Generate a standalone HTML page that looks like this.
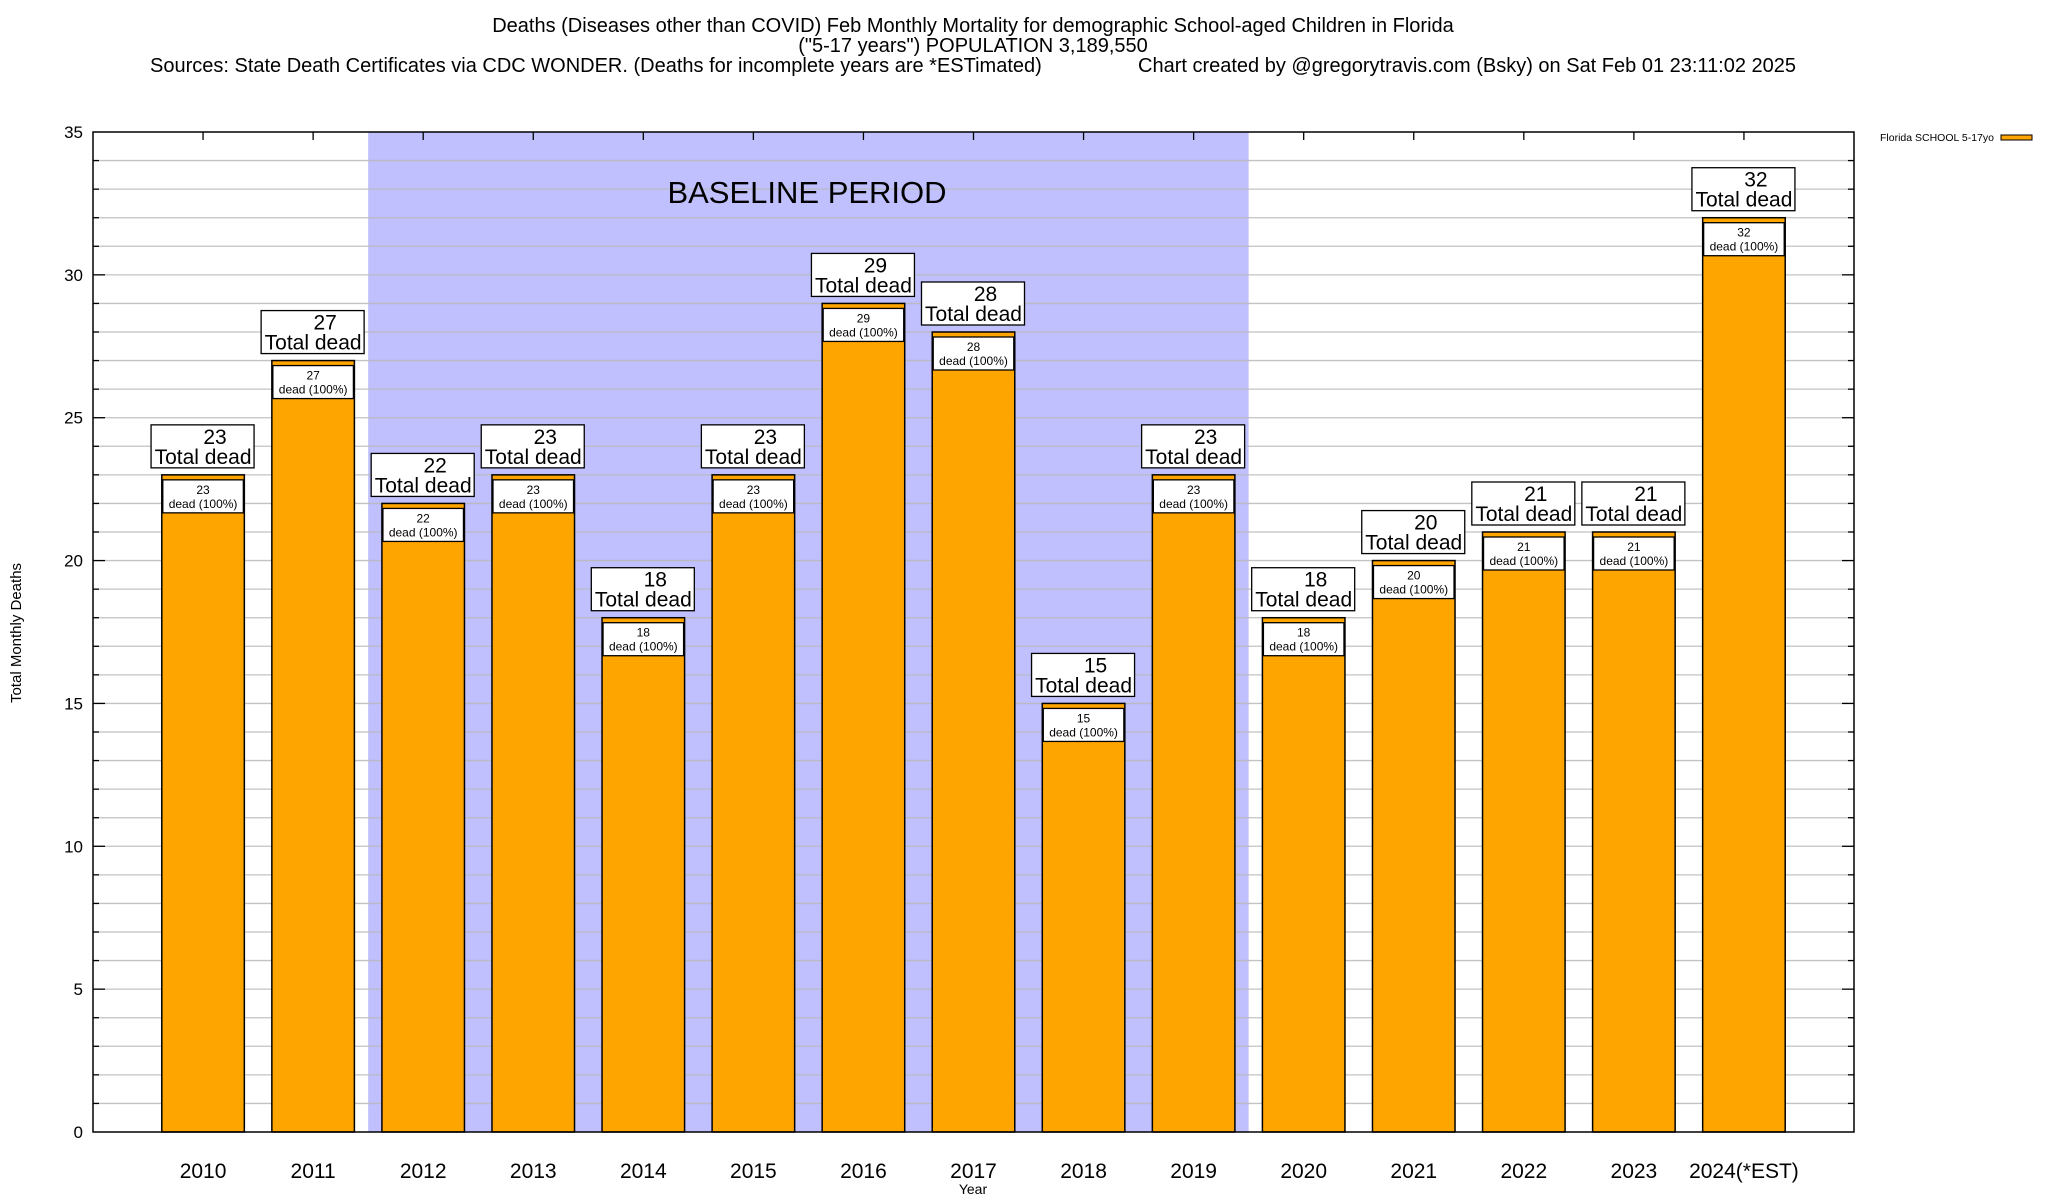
<!DOCTYPE html>
<html><head><meta charset="utf-8"><style>
html,body{margin:0;padding:0;background:#fff;}
svg{display:block;font-family:"Liberation Sans",sans-serif;}
</style></head><body>
<svg id="chart" width="2048" height="1200" viewBox="0 0 2048 1200" xmlns="http://www.w3.org/2000/svg">
<g font-size="20" text-anchor="middle">
<text x="973" y="32">Deaths (Diseases other than COVID) Feb Monthly Mortality for demographic School-aged Children in Florida</text>
<text x="973" y="52">("5-17 years") POPULATION 3,189,550</text>
<text x="150" y="72" text-anchor="start">Sources: State Death Certificates via CDC WONDER. (Deaths for incomplete years are *ESTimated)</text>
<text x="1138" y="72" text-anchor="start">Chart created by @gregorytravis.com (Bsky) on Sat Feb 01 23:11:02 2025</text>
</g>
<g id="plot"></g>
<g>
<text x="1880" y="141" font-size="10" textLength="114" lengthAdjust="spacingAndGlyphs">Florida SCHOOL 5-17yo</text>
<rect x="2001" y="135" width="31" height="5" fill="#ffa500" stroke="#000" stroke-width="1"/>
</g>
<text transform="translate(21,633) rotate(-90)" font-size="15" text-anchor="middle">Total Monthly Deaths</text>
<text x="973" y="1194" font-size="14" text-anchor="middle">Year</text>
</svg>
<script>
const categories = ["2010","2011","2012","2013","2014","2015","2016","2017","2018","2019","2020","2021","2022","2023","2024(*EST)"];
const deaths = [23,27,22,23,18,23,29,28,15,23,18,20,21,21,32];
const yTicks = [0,5,10,15,20,25,30,35];
const baselineStart = 1.5, baselineEnd = 9.5;

const NS = "http://www.w3.org/2000/svg";
const L = 93, R = 1854, T = 132, B = 1132;
const xMin = -1, xMax = categories.length, yMax = 35;
const xs = v => L + (v - xMin) / (xMax - xMin) * (R - L);
const ys = v => B - v / yMax * (B - T);
const pitch = (R - L) / (xMax - xMin);
const plot = document.getElementById('plot');
function mk(tag, attrs, parent) {
  const e = document.createElementNS(NS, tag);
  for (const k in attrs) e.setAttribute(k, attrs[k]);
  (parent || plot).appendChild(e);
  return e;
}
const shade = mk('rect', {x: xs(baselineStart), y: T, width: xs(baselineEnd) - xs(baselineStart), height: B - T, fill: '#c0c0ff'});


for (let v = 1; v < yMax; v++) {
  const g = mk('line', {x1: L, x2: R, y1: ys(v), y2: ys(v), stroke: '#b8b8b8', 'stroke-width': 1.3, 'stroke-opacity': 0.85});
  
  
  const t1 = mk('line', {x1: L, x2: L + (v % 5 ? 6 : 12), y1: ys(v), y2: ys(v), stroke: '#000', 'stroke-width': 1.3});
  
  
  const t2 = mk('line', {x1: R, x2: R - (v % 5 ? 6 : 12), y1: ys(v), y2: ys(v), stroke: '#000', 'stroke-width': 1.3});
  
  
}
const bl = mk('text', {x: 807, y: 203, 'font-size': 31, 'text-anchor': 'middle'});
bl.textContent = 'BASELINE PERIOD';


yTicks.forEach(v => {
  const t = mk('text', {x: 83, y: ys(v) + 6, 'font-size': 17, 'text-anchor': 'end'});
  t.textContent = v;
  
  
});
const bw = pitch * 0.75;
categories.forEach((c, i) => {
  const cx = xs(i), v = deaths[i];
  const top = ys(v);
  const tk = mk('line', {x1: cx, x2: cx, y1: T, y2: T + 8, stroke: '#000', 'stroke-width': 1.3});
  
  
  const bar = mk('rect', {x: cx - bw / 2, y: top, width: bw, height: B - top, fill: '#ffa500', stroke: '#000', 'stroke-width': 1.5});
  
  
  const ib = mk('rect', {x: cx - bw / 2 + 1, y: top + 5, width: bw - 2, height: 33, fill: '#fff', stroke: '#000', 'stroke-width': 1.3});
  
  
  const it1 = mk('text', {x: cx, y: top + 19, 'font-size': 12, 'text-anchor': 'middle'});
  it1.textContent = v;
  
  
  const it2 = mk('text', {x: cx, y: top + 33, 'font-size': 12, 'text-anchor': 'middle'});
  it2.textContent = 'dead (100%)';
  
  
  const ob = mk('rect', {x: cx - 52, y: top - 50, width: 103, height: 43, fill: '#fff', stroke: '#000', 'stroke-width': 1.3});
  
  
  const o1 = mk('text', {x: cx + 12, y: top - 31, 'font-size': 21, 'text-anchor': 'middle'});
  o1.textContent = v;
  
  
  const o2 = mk('text', {x: cx, y: top - 11, 'font-size': 21, 'text-anchor': 'middle'});
  o2.textContent = 'Total dead';
  
  
  const xl = mk('text', {x: cx, y: 1178, 'font-size': 21, 'text-anchor': 'middle'});
  xl.textContent = c;
  
  
});
const frame = mk('rect', {x: L, y: T, width: R - L, height: B - T, fill: 'none', stroke: '#000', 'stroke-width': 1.5});


</script>
</body></html>
